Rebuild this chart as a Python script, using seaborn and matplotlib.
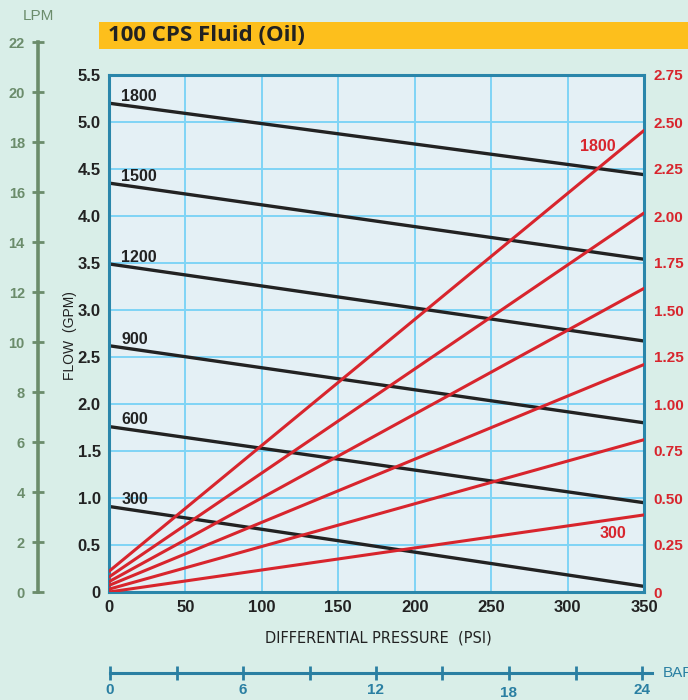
import matplotlib
matplotlib.use("Agg")
import matplotlib.pyplot as plt
import matplotlib.font_manager as fm
from matplotlib.patches import Rectangle
import seaborn as sns

# ---------------- data ----------------
psi = [0, 350]
rpm_labels = ["1800", "1500", "1200", "900", "600", "300"]
flow_start = [5.20, 4.35, 3.49, 2.62, 1.76, 0.91]   # GPM at 0 psi
flow_end = [4.44, 3.54, 2.67, 1.80, 0.95, 0.06]     # GPM at 350 psi
hp_start = [0.11, 0.08, 0.055, 0.035, 0.015, 0.0]   # right axis at 0 psi
hp_end = [2.455, 2.016, 1.615, 1.21, 0.81, 0.41]    # right axis at 350 psi
left_ticks = [0, 0.5, 1.0, 1.5, 2.0, 2.5, 3.0, 3.5, 4.0, 4.5, 5.0, 5.5]
left_ticklabels = ["0", "0.5", "1.0", "1.5", "2.0", "2.5", "3.0", "3.5", "4.0", "4.5", "5.0", "5.5"]
right_ticks = [0, 0.25, 0.5, 0.75, 1.0, 1.25, 1.5, 1.75, 2.0, 2.25, 2.5, 2.75]
right_ticklabels = ["0", "0.25", "0.50", "0.75", "1.00", "1.25", "1.50", "1.75", "2.00", "2.25", "2.50", "2.75"]
psi_ticks = [0, 50, 100, 150, 200, 250, 300, 350]
lpm_ticks = [0, 2, 4, 6, 8, 10, 12, 14, 16, 18, 20, 22]
bar_ticks = [0, 3, 6, 9, 12, 15, 18, 21, 24]
bar_labels = [0, 6, 12, 18, 24]
title = "100 CPS Fluid (Oil)"

# ---------------- style ----------------
sns.set_theme(style="white")
plt.rcParams["font.family"] = ["Liberation Sans", "DejaVu Sans"]
TICKFONT = "Liberation Sans"

BG = "#d9eee8"
FACE = "#e4f0f5"
GRID = "#7fd4f6"
FRAME = "#2a86aa"
RED = "#d8252d"
BLACK = "#222222"
GREEN = "#6b8c6b"
TEAL = "#2a7fa2"
YELLOW = "#fdbf1c"

W, H = 688, 700
fig = plt.figure(figsize=(W / 100, H / 100), dpi=100, facecolor=BG)

def fx(px):
    return px / W

def fy(py):
    return 1 - py / H

def tickfont(size):
    return fm.FontProperties(family=TICKFONT, weight="bold", size=size)

# title banner
fig.patches.append(Rectangle((fx(99), fy(49)), fx(W - 99), 27 / H, transform=fig.transFigure,
                             facecolor=YELLOW, edgecolor="none", zorder=0))
fig.text(fx(108), fy(35.5), title, fontsize=16, fontweight="bold", color=BLACK,
         family=["Open Sans", "DejaVu Sans"], va="center", ha="left")

# ---------------- main axes ----------------
x0, x1, ytop, ybot = 109, 644, 75, 592
ax = fig.add_axes([fx(x0), fy(ybot), (x1 - x0) / W, (ybot - ytop) / H])
ax.set_facecolor(FACE)
ax.set_xlim(0, 350)
ax.set_ylim(0, 5.5)
ax.set_xticks(psi_ticks)
ax.set_yticks(left_ticks)
ax.set_yticklabels(left_ticklabels)
ax.grid(True, color=GRID, linewidth=1.4)
ax.set_axisbelow(True)
for s in ax.spines.values():
    s.set_color(FRAME)
    s.set_linewidth(2.2)
ax.tick_params(axis="both", length=0, pad=6)
for lab in ax.get_xticklabels() + ax.get_yticklabels():
    lab.set_fontproperties(tickfont(12))
    lab.set_color(BLACK)

for lab, s, e in zip(rpm_labels, flow_start, flow_end):
    sns.lineplot(x=psi, y=[s, e], color=BLACK, linewidth=2.4, ax=ax, legend=False)
    ax.text(8, s - 0.01, lab, fontsize=11.5, fontweight="bold", color=BLACK, ha="left", va="bottom")

ax.set_xlabel("")
ax.set_ylabel("")
fig.text(fx(378), fy(638), "DIFFERENTIAL PRESSURE  (PSI)", fontsize=10.5, color=BLACK,
         family="DejaVu Sans", ha="center", va="center")
fig.text(fx(70), fy(336), "FLOW  (GPM)", fontsize=10, color=BLACK, rotation=90,
         ha="center", va="center")

# ---------------- right axis (red) ----------------
ax2 = ax.twinx()
ax2.set_ylim(0, 2.75)
ax2.set_yticks(right_ticks)
ax2.set_yticklabels(right_ticklabels)
ax2.grid(False)
for s in ax2.spines.values():
    s.set_visible(False)
ax2.tick_params(axis="y", length=0, pad=7)
for lab in ax2.get_yticklabels():
    lab.set_fontproperties(tickfont(11))
    lab.set_color(RED)
for s, e in zip(hp_start, hp_end):
    sns.lineplot(x=psi, y=[s, e], color=RED, linewidth=2.2, ax=ax2, legend=False)
ax2.set_ylabel("")
ax2.text(320, 2.37, rpm_labels[0], fontsize=11.5, fontweight="bold", color=RED, ha="center", va="center")
ax2.text(330, 0.31, rpm_labels[-1], fontsize=11.5, fontweight="bold", color=RED, ha="center", va="center")

# ---------------- LPM scale ----------------
lp_top, lp_bot = 42, 592
axl = fig.add_axes([fx(38), fy(lp_bot), 1e-4, (lp_bot - lp_top) / H])
axl.set_ylim(0, 22)
axl.set_xticks([])
axl.set_yticks(lpm_ticks)
axl.patch.set_alpha(0)
for k, s in axl.spines.items():
    s.set_visible(k == "left")
axl.spines["left"].set_color(GREEN)
axl.spines["left"].set_linewidth(2.6)
axl.tick_params(axis="y", left=True, direction="inout", length=9, width=2, color=GREEN, pad=5)
for lab in axl.get_yticklabels():
    lab.set_fontproperties(tickfont(10.5))
    lab.set_color(GREEN)
fig.text(fx(38), fy(16), "LPM", fontsize=11, color=GREEN, ha="center", va="center")

# ---------------- BAR scale ----------------
b0, b24, bend, by = 110, 642, 652, 673
axb = fig.add_axes([fx(b0), fy(by), (bend - b0) / W, 1e-4])
axb.set_xlim(0, 24 * (bend - b0) / (b24 - b0))
axb.set_yticks([])
axb.set_xticks(bar_ticks)
axb.set_xticklabels([])
axb.patch.set_alpha(0)
for k, s in axb.spines.items():
    s.set_visible(k == "bottom")
axb.spines["bottom"].set_color(TEAL)
axb.spines["bottom"].set_linewidth(2.2)
axb.tick_params(axis="x", bottom=True, direction="inout", length=10, width=2, color=TEAL)
for v in bar_labels:
    off = 2 if v == 18 else 0
    axb.annotate(str(v), xy=(v, 0), xycoords=("data", "axes fraction"), xytext=(0, -7.5 - off),
                 textcoords="offset points", ha="center", va="top", color=TEAL,
                 fontproperties=tickfont(11))
fig.text(fx(663), fy(by), "BAR", fontsize=11, color=TEAL, ha="left", va="center")

fig.savefig("out.png", dpi=100, facecolor=BG)
